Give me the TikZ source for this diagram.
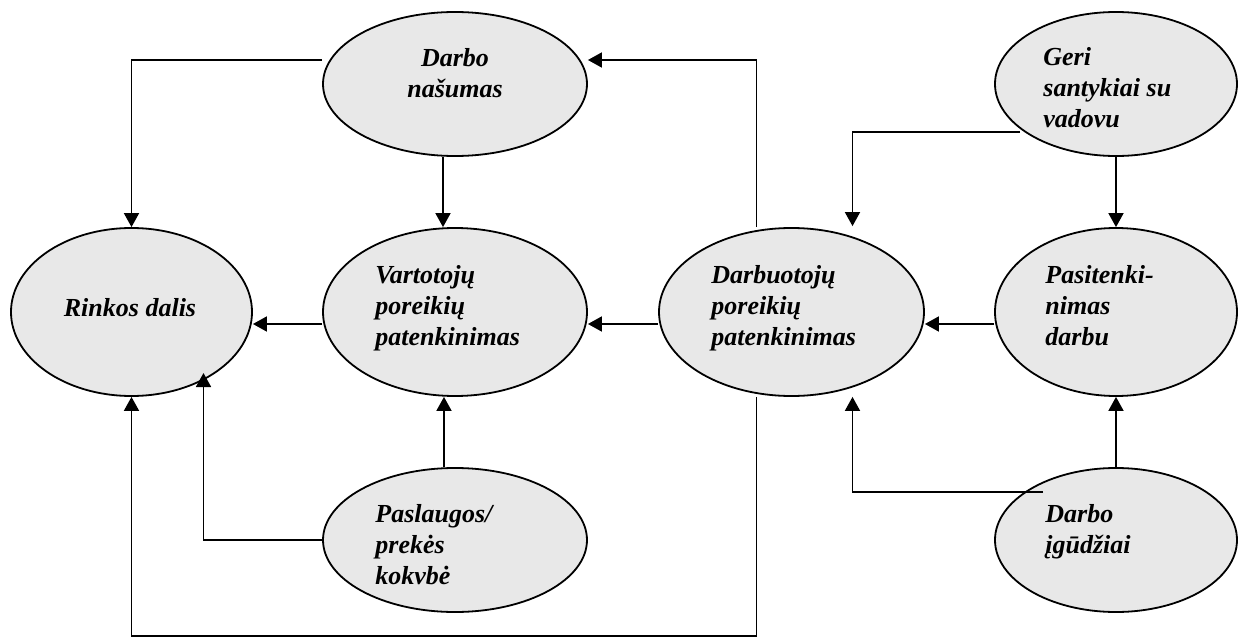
\documentclass[tikz,border=0pt]{standalone}
\usepackage{fontspec}
\setmainfont{Liberation Serif}
\usetikzlibrary{shapes.geometric,arrows.meta}
\definecolor{ovalfill}{RGB}{232,232,232}
\tikzset{
  oval/.style={ellipse, draw=black, fill=ovalfill, line width=0.9pt, inner sep=0pt},
  txt/.style={inner sep=0pt, align=left, font=\fontsize{13}{15.5}\selectfont\bfseries\itshape},
  arr/.style={draw=black, line width=0.9pt, -{Triangle[length=7pt,width=7.5pt]}},
}
\begin{document}
\begin{tikzpicture}[x=0.5pt,y=-0.5pt]
\useasboundingbox (0,0) rectangle (1239,637);

% factor ellipses
\node[oval, minimum width=132pt, minimum height=72pt] (dn) at (455,84) {};
\node[oval, minimum width=121pt, minimum height=72pt] (ge) at (1116,84) {};
\node[oval, minimum width=120.5pt, minimum height=84pt] (rd) at (131.5,312) {};
\node[oval, minimum width=132pt, minimum height=84pt] (vp) at (455,312) {};
\node[oval, minimum width=132.5pt, minimum height=84pt] (dp) at (791.5,312) {};
\node[oval, minimum width=121pt, minimum height=84pt] (pd) at (1116,312) {};
\node[oval, minimum width=132pt, minimum height=72pt] (pk) at (455,540) {};
\node[oval, minimum width=121pt, minimum height=72pt] (di) at (1116,540) {};

% labels
\node[txt, align=center, anchor=north] (dn-t) at (455,44.3) {\strut Darbo\\našumas};
\node[txt, anchor=north west] (ge-t) at (1043,43.3) {\strut Geri\\santykiai su\\vadovu};
\node[txt, anchor=base] (rd-t) at (130,316) {Rinkos dalis};
\node[txt, anchor=north west] (vp-t) at (375,261.3) {\strut Vartotojų\\poreikių\\patenkinimas};
\node[txt, anchor=north west] (dp-t) at (711,261.3) {\strut Darbuotojų\\poreikių\\patenkinimas};
\node[txt, anchor=north west] (pd-t) at (1045,261.3) {\strut Pasitenki-\\nimas\\darbu};
\node[txt, anchor=north west] (pk-t) at (375,500.3) {\strut Paslaugos/\\prekės\\kokvbė};
\node[txt, anchor=north west] (di-t) at (1045,500.3) {\strut Darbo\\įgūdžiai};

% connectors
\draw[arr] ([yshift=12pt]dn.west) -| (rd.north);
\draw[arr] ([xshift=-6pt]dn.south) -- ([xshift=-6pt]vp.north);
\draw[arr] ([xshift=-17.5pt]dp.north) |- ([yshift=12pt]dn.east);
\draw[arr] ([shift={(-48pt,-24pt)}]ge.center) -| ([xshift=30.5pt,yshift=0.5pt]dp.north);
\draw[arr] (ge.south) -- (pd.north);
\draw[arr] ([yshift=-6pt]pd.west) -- ([yshift=-6pt]dp.east);
\draw[arr] ([yshift=-6pt]dp.west) -- ([yshift=-6pt]vp.east);
\draw[arr] ([yshift=-6pt]vp.west) -- ([yshift=-6pt]rd.east);
\draw[arr] ([xshift=-5.5pt]pk.north) -- ([xshift=-5.5pt]vp.south);
\draw[arr] (pk.west) -| ([shift={(36pt,-30.5pt)}]rd.center);
\draw[arr] ([xshift=-17.5pt]dp.south) |- ([yshift=-119.5pt]rd.south) -- (rd.south);
\draw[arr] ([shift={(-36.5pt,24pt)}]di.center) -| ([xshift=30.5pt]dp.south);
\draw[arr] (di.north) -- (pd.south);
\end{tikzpicture}
\end{document}
